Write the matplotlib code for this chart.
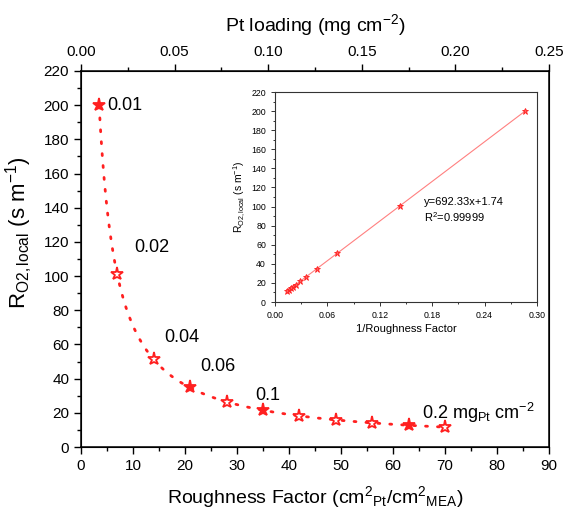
import matplotlib.pyplot as plt
import numpy as np
from matplotlib.ticker import MultipleLocator

plt.rcParams['font.family'] = ['Liberation Sans', 'DejaVu Sans']
plt.rcParams['mathtext.fontset'] = 'custom'
plt.rcParams['mathtext.rm'] = 'Liberation Sans'
plt.rcParams['mathtext.it'] = 'Liberation Sans'

# data
rf = [3.5, 7, 14, 21, 28, 35, 42, 49, 56, 63, 70]
r_local = [200, 101, 51.5, 35, 26.5, 21.5, 18.3, 16, 14.3, 12.8, 11.8]
filled = [True, False, False, True, False, True, False, False, False, True, False]
loading_labels = ['0.01', '0.02', '0.04', '0.06', '0.1', '0.2 mg$_{\\rm Pt}$ cm$^{-2}$']
label_pos = [(5, 200), (10.2, 117), (16, 64), (23, 47), (33.5, 30), (65.5, 20)]

# linear fit shown in the inset
slope = 692.33
intercept = 1.74

fig = plt.figure(figsize=(5.7, 5.19), dpi=100)
ax = fig.add_axes([0.142, 0.1387, 0.821, 0.7245])

xs = np.linspace(rf[0], rf[-1], 400)
ax.plot(xs, slope / xs + intercept, color='#ff2020', lw=2.0, ls=(0, (0.7, 3.6)),
        dash_capstyle='round', zorder=2)
for x, y, f in zip(rf, r_local, filled):
    ax.plot(x, y, marker='*', ms=9.5, mec='#ff2020', mew=1.3,
            mfc='#ff2020' if f else 'white', ls='none', zorder=3)

for txt, (x, y) in zip(loading_labels, label_pos):
    ax.text(x, y, txt, fontsize=13, va='center', ha='left')

ax.set_xlim(0, 90)
ax.set_ylim(0, 220)
ax.xaxis.set_major_locator(MultipleLocator(10))
ax.xaxis.set_minor_locator(MultipleLocator(5))
ax.yaxis.set_major_locator(MultipleLocator(20))
ax.yaxis.set_minor_locator(MultipleLocator(10))
ax.tick_params(which='both', direction='out', labelsize=11, width=1)
ax.tick_params(which='major', length=5)
ax.tick_params(which='minor', length=3)
for s in ax.spines.values():
    s.set_linewidth(1.1)
ax.set_xlabel('Roughness Factor (cm$^2$$_{\\rm Pt}$/cm$^2$$_{\\rm MEA}$)', fontsize=14, labelpad=8)
ax.set_ylabel('R$_{\\rm O2,local}$ (s m$^{-1}$)', fontsize=16)
ax.yaxis.set_label_coords(-0.098, 0.57)

top = ax.twiny()
top.set_xlim(0, 0.25)
top.xaxis.set_major_locator(MultipleLocator(0.05))
top.xaxis.set_minor_locator(MultipleLocator(0.025))
top.xaxis.set_major_formatter(plt.FormatStrFormatter('%.2f'))
top.tick_params(which='both', direction='out', labelsize=11, width=1)
top.tick_params(which='major', length=5)
top.tick_params(which='minor', length=3)
top.set_xlabel('Pt loading (mg cm$^{-2}$)', fontsize=14, labelpad=10)

# inset
ins = fig.add_axes([0.4825, 0.4181, 0.4596, 0.4046])
inv = 1 / np.array(rf)
xl = np.linspace(inv.min(), inv.max(), 2)
ins.plot(xl, slope * xl + intercept, color='#ff8080', lw=0.8, zorder=2)
ins.plot(inv, r_local, marker='*', ms=5, mec='#ff2020', mfc='#ff6060', mew=0.6,
         ls='none', zorder=3)
ins.set_xlim(0, 0.30)
ins.set_ylim(0, 220)
ins.xaxis.set_major_locator(MultipleLocator(0.06))
ins.xaxis.set_minor_locator(MultipleLocator(0.03))
ins.xaxis.set_major_formatter(plt.FormatStrFormatter('%.2f'))
ins.yaxis.set_major_locator(MultipleLocator(20))
ins.yaxis.set_minor_locator(MultipleLocator(10))
ins.tick_params(which='both', direction='out', labelsize=6.3, width=0.7, color='#333333')
ins.tick_params(which='major', length=3)
ins.tick_params(which='minor', length=1.5)
for s in ins.spines.values():
    s.set_linewidth(0.8)
    s.set_color('#333333')
ins.set_xlabel('1/Roughness Factor', fontsize=8, labelpad=3)
ins.set_ylabel('R$_{\\rm O2,local}$ (s m$^{-1}$)', fontsize=7.5, labelpad=2)
ins.text(0.171, 96, 'y=692.33x+1.74\nR$^2$=0.99999', fontsize=8, va='center',
         linespacing=1.3)

fig.savefig('out.png', dpi=100)
